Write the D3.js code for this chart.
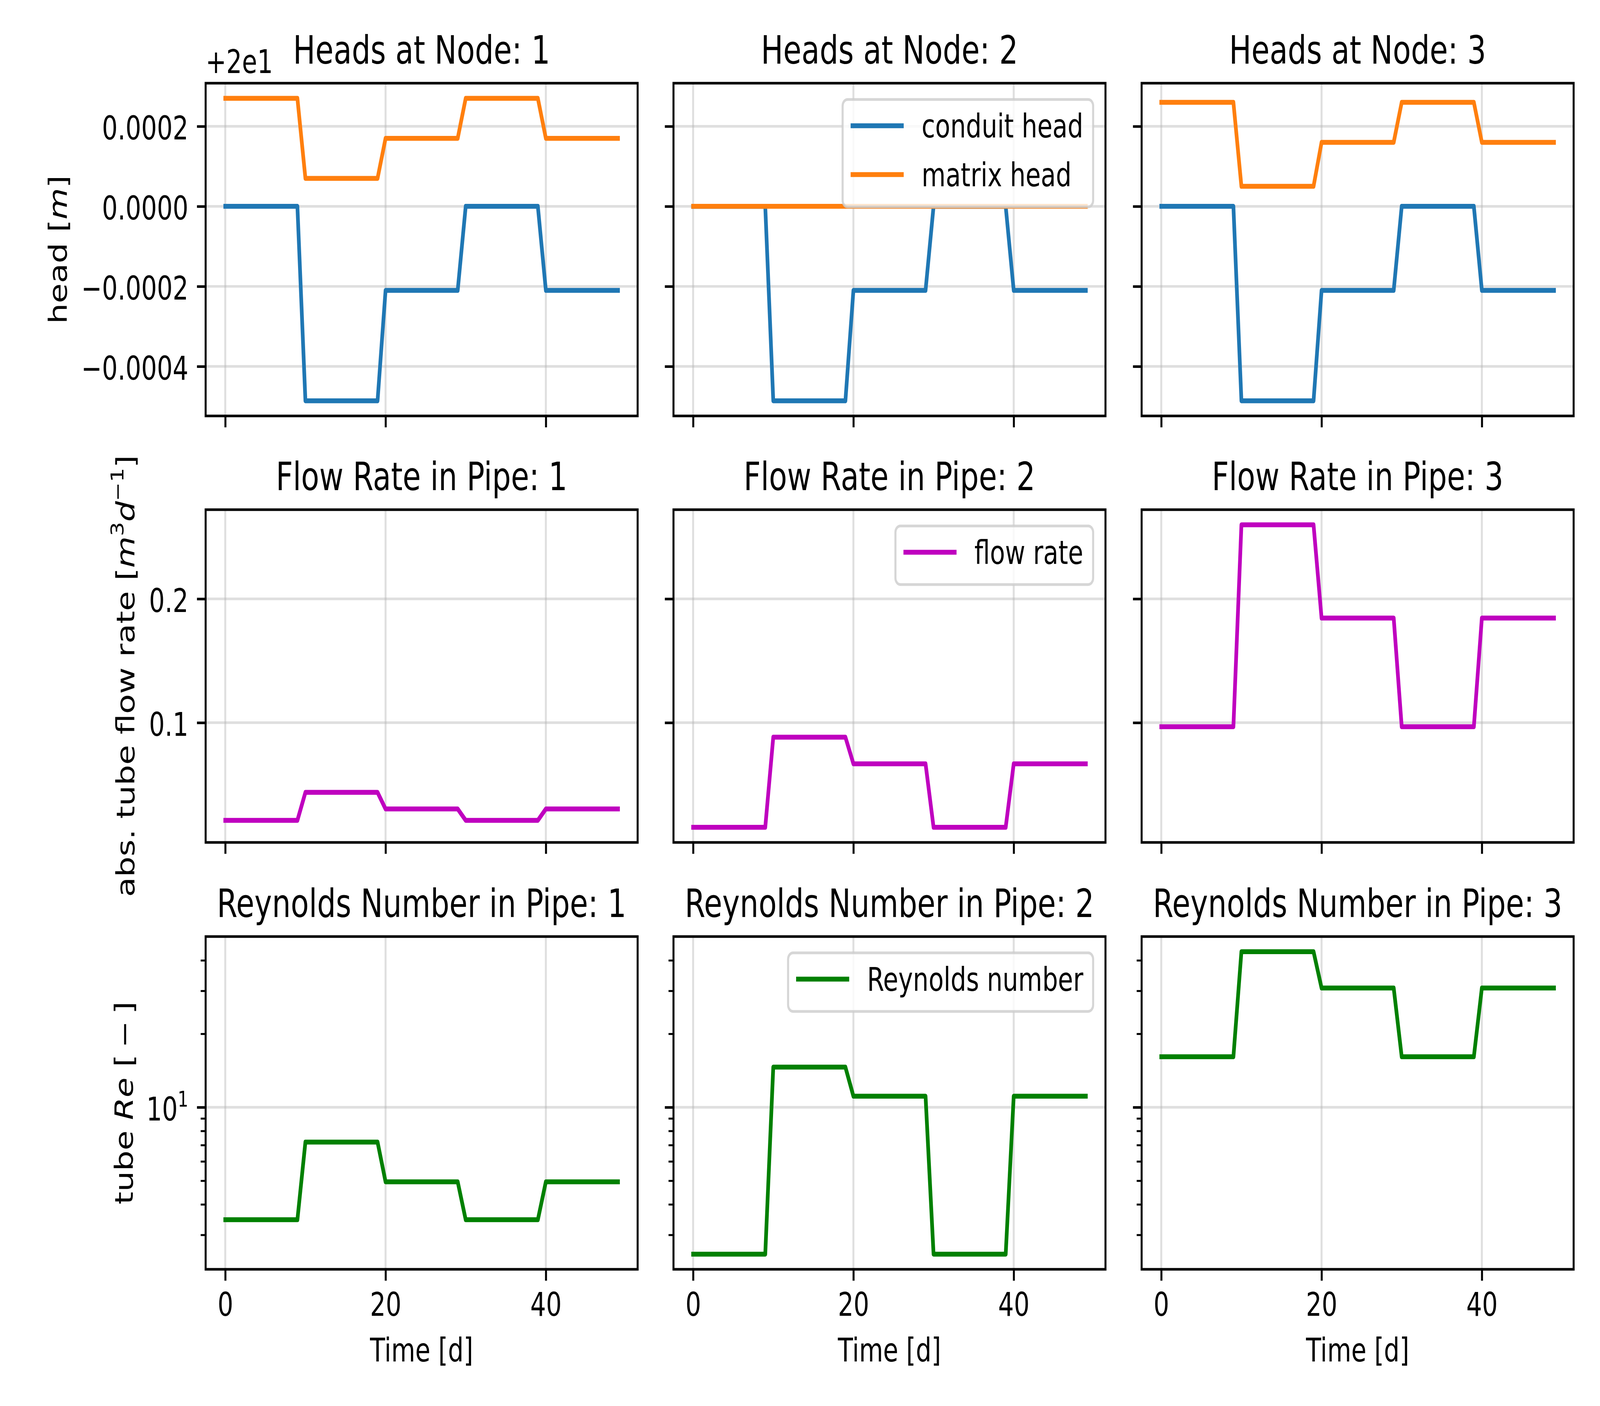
<!DOCTYPE html>
<html>
<head>
<meta charset="utf-8">
<script src="https://cdn.jsdelivr.net/npm/d3@7"></script>
<style>
  html, body { margin: 0; padding: 0; background: #fff; overflow: hidden; }
  text { font-family: "DejaVu Sans", sans-serif; fill: #000; }
</style>
</head>
<body>
<div id="chart"></div>
<script>
// time [d]
var days = [0,1,2,3,4,5,6,7,8,9,10,11,12,13,14,15,16,17,18,19,20,21,22,23,24,
            25,26,27,28,29,30,31,32,33,34,35,36,37,38,39,40,41,42,43,44,45,46,47,48,49];

// heads relative to the +2e1 offset [m]
var conduitHead1 = [
  0,0,0,0,0,0,0,0,0,0,
  -0.000486,-0.000486,-0.000486,-0.000486,-0.000486,-0.000486,-0.000486,-0.000486,-0.000486,-0.000486,
  -0.00021,-0.00021,-0.00021,-0.00021,-0.00021,-0.00021,-0.00021,-0.00021,-0.00021,-0.00021,
  0,0,0,0,0,0,0,0,0,0,
  -0.00021,-0.00021,-0.00021,-0.00021,-0.00021,-0.00021,-0.00021,-0.00021,-0.00021,-0.00021];
var matrixHead1 = [
  0.00027,0.00027,0.00027,0.00027,0.00027,0.00027,0.00027,0.00027,0.00027,0.00027,
  0.00007,0.00007,0.00007,0.00007,0.00007,0.00007,0.00007,0.00007,0.00007,0.00007,
  0.00017,0.00017,0.00017,0.00017,0.00017,0.00017,0.00017,0.00017,0.00017,0.00017,
  0.00027,0.00027,0.00027,0.00027,0.00027,0.00027,0.00027,0.00027,0.00027,0.00027,
  0.00017,0.00017,0.00017,0.00017,0.00017,0.00017,0.00017,0.00017,0.00017,0.00017];
var conduitHead2 = [
  0,0,0,0,0,0,0,0,0,0,
  -0.000486,-0.000486,-0.000486,-0.000486,-0.000486,-0.000486,-0.000486,-0.000486,-0.000486,-0.000486,
  -0.00021,-0.00021,-0.00021,-0.00021,-0.00021,-0.00021,-0.00021,-0.00021,-0.00021,-0.00021,
  0,0,0,0,0,0,0,0,0,0,
  -0.00021,-0.00021,-0.00021,-0.00021,-0.00021,-0.00021,-0.00021,-0.00021,-0.00021,-0.00021];
var matrixHead2 = [
  0,0,0,0,0,0,0,0,0,0,
  0,0,0,0,0,0,0,0,0,0,
  0,0,0,0,0,0,0,0,0,0,
  0,0,0,0,0,0,0,0,0,0,
  0,0,0,0,0,0,0,0,0,0];
var conduitHead3 = [
  0,0,0,0,0,0,0,0,0,0,
  -0.000486,-0.000486,-0.000486,-0.000486,-0.000486,-0.000486,-0.000486,-0.000486,-0.000486,-0.000486,
  -0.00021,-0.00021,-0.00021,-0.00021,-0.00021,-0.00021,-0.00021,-0.00021,-0.00021,-0.00021,
  0,0,0,0,0,0,0,0,0,0,
  -0.00021,-0.00021,-0.00021,-0.00021,-0.00021,-0.00021,-0.00021,-0.00021,-0.00021,-0.00021];
var matrixHead3 = [
  0.00026,0.00026,0.00026,0.00026,0.00026,0.00026,0.00026,0.00026,0.00026,0.00026,
  0.00005,0.00005,0.00005,0.00005,0.00005,0.00005,0.00005,0.00005,0.00005,0.00005,
  0.00016,0.00016,0.00016,0.00016,0.00016,0.00016,0.00016,0.00016,0.00016,0.00016,
  0.00026,0.00026,0.00026,0.00026,0.00026,0.00026,0.00026,0.00026,0.00026,0.00026,
  0.00016,0.00016,0.00016,0.00016,0.00016,0.00016,0.00016,0.00016,0.00016,0.00016];

// abs. tube flow rate [m3/d]
var flowRate1 = [
  0.0211,0.0211,0.0211,0.0211,0.0211,0.0211,0.0211,0.0211,0.0211,0.0211,
  0.0437,0.0437,0.0437,0.0437,0.0437,0.0437,0.0437,0.0437,0.0437,0.0437,
  0.0303,0.0303,0.0303,0.0303,0.0303,0.0303,0.0303,0.0303,0.0303,0.0303,
  0.0211,0.0211,0.0211,0.0211,0.0211,0.0211,0.0211,0.0211,0.0211,0.0211,
  0.0303,0.0303,0.0303,0.0303,0.0303,0.0303,0.0303,0.0303,0.0303,0.0303];
var flowRate2 = [
  0.0155,0.0155,0.0155,0.0155,0.0155,0.0155,0.0155,0.0155,0.0155,0.0155,
  0.0883,0.0883,0.0883,0.0883,0.0883,0.0883,0.0883,0.0883,0.0883,0.0883,
  0.0668,0.0668,0.0668,0.0668,0.0668,0.0668,0.0668,0.0668,0.0668,0.0668,
  0.0155,0.0155,0.0155,0.0155,0.0155,0.0155,0.0155,0.0155,0.0155,0.0155,
  0.0668,0.0668,0.0668,0.0668,0.0668,0.0668,0.0668,0.0668,0.0668,0.0668];
var flowRate3 = [
  0.0967,0.0967,0.0967,0.0967,0.0967,0.0967,0.0967,0.0967,0.0967,0.0967,
  0.2598,0.2598,0.2598,0.2598,0.2598,0.2598,0.2598,0.2598,0.2598,0.2598,
  0.1845,0.1845,0.1845,0.1845,0.1845,0.1845,0.1845,0.1845,0.1845,0.1845,
  0.0967,0.0967,0.0967,0.0967,0.0967,0.0967,0.0967,0.0967,0.0967,0.0967,
  0.1845,0.1845,0.1845,0.1845,0.1845,0.1845,0.1845,0.1845,0.1845,0.1845];

// tube Reynolds number [-]
var reynolds1 = [
  3.46,3.46,3.46,3.46,3.46,3.46,3.46,3.46,3.46,3.46,
  7.20,7.20,7.20,7.20,7.20,7.20,7.20,7.20,7.20,7.20,
  4.95,4.95,4.95,4.95,4.95,4.95,4.95,4.95,4.95,4.95,
  3.46,3.46,3.46,3.46,3.46,3.46,3.46,3.46,3.46,3.46,
  4.95,4.95,4.95,4.95,4.95,4.95,4.95,4.95,4.95,4.95];
var reynolds2 = [
  2.50,2.50,2.50,2.50,2.50,2.50,2.50,2.50,2.50,2.50,
  14.6,14.6,14.6,14.6,14.6,14.6,14.6,14.6,14.6,14.6,
  11.1,11.1,11.1,11.1,11.1,11.1,11.1,11.1,11.1,11.1,
  2.50,2.50,2.50,2.50,2.50,2.50,2.50,2.50,2.50,2.50,
  11.1,11.1,11.1,11.1,11.1,11.1,11.1,11.1,11.1,11.1];
var reynolds3 = [
  16.1,16.1,16.1,16.1,16.1,16.1,16.1,16.1,16.1,16.1,
  43.4,43.4,43.4,43.4,43.4,43.4,43.4,43.4,43.4,43.4,
  30.8,30.8,30.8,30.8,30.8,30.8,30.8,30.8,30.8,30.8,
  16.1,16.1,16.1,16.1,16.1,16.1,16.1,16.1,16.1,16.1,
  30.8,30.8,30.8,30.8,30.8,30.8,30.8,30.8,30.8,30.8];

// ticks
var timeTicks = [0, 20, 40];
var headTicks = [-0.0004, -0.0002, 0, 0.0002];
var flowTicks = [0.1, 0.2];
var reMajorTicks = [10];
var reMinorTicks = [3, 4, 5, 6, 7, 8, 9, 20, 30, 40];
var headOffsetLabel = "+2e1";

var W = 5400, H = 3600;
var colX = [694, 2273, 3853], rowY = [213, 1305, 2398];
var pw = 1458, ph = 852;
var fs = 83.33, titleFs = 100;
var tickLen = 29.2, tickPad = 29.2, lw = 6.67;

// the drawing is laid out on a 5400x3600 grid and stretched onto the window
var svg = d3.select("#chart").append("svg")
    .attr("viewBox", "0 0 " + W + " " + H)
    .attr("preserveAspectRatio", "none")
    .style("width", "100vw")
    .style("height", "100vh")
    .style("display", "block")
    .style("background", "#fff");

// 5% margins like matplotlib
function pad(ext) {
  var m = (ext[1] - ext[0]) * 0.05;
  return [ext[0] - m, ext[1] + m];
}

var x = d3.scaleLinear().domain(pad(d3.extent(days))).range([0, pw]);

var yHead = d3.scaleLinear()
    .domain(pad(d3.extent([].concat(conduitHead1, matrixHead1, conduitHead2, matrixHead2, conduitHead3, matrixHead3))))
    .range([ph, 0]);
var yFlow = d3.scaleLinear()
    .domain(pad(d3.extent([].concat(flowRate1, flowRate2, flowRate3))))
    .range([ph, 0]);
var reLog = pad(d3.extent([].concat(reynolds1, reynolds2, reynolds3)).map(Math.log10));
var yRe = d3.scaleLog()
    .domain([Math.pow(10, reLog[0]), Math.pow(10, reLog[1])])
    .range([ph, 0]);

var blue = "#1f77b4", orange = "#ff7f0e", magenta = "#bf00bf", green = "#008000";

var rows = [
  { title: "Heads at Node: ", y: yHead, ticks: headTicks,
    fmt: function(d) { return (d < 0 ? "\u2212" : "") + Math.abs(d).toFixed(4); },
    series: [
      [{ v: conduitHead1, c: blue, label: "conduit head" }, { v: matrixHead1, c: orange, label: "matrix head" }],
      [{ v: conduitHead2, c: blue, label: "conduit head" }, { v: matrixHead2, c: orange, label: "matrix head" }],
      [{ v: conduitHead3, c: blue, label: "conduit head" }, { v: matrixHead3, c: orange, label: "matrix head" }]
    ] },
  { title: "Flow Rate in Pipe: ", y: yFlow, ticks: flowTicks,
    fmt: function(d) { return d.toFixed(1); },
    series: [
      [{ v: flowRate1, c: magenta, label: "flow rate" }],
      [{ v: flowRate2, c: magenta, label: "flow rate" }],
      [{ v: flowRate3, c: magenta, label: "flow rate" }]
    ] },
  { title: "Reynolds Number in Pipe: ", y: yRe, ticks: reMajorTicks, log: true,
    series: [
      [{ v: reynolds1, c: green, label: "Reynolds number" }],
      [{ v: reynolds2, c: green, label: "Reynolds number" }],
      [{ v: reynolds3, c: green, label: "Reynolds number" }]
    ] }
];

function styleAxis(sel, width) {
  sel.attr("font-size", fs).attr("font-family", null);
  sel.select(".domain").remove();
  sel.selectAll(".tick line").attr("stroke", "#000").attr("stroke-width", width);
}

function legend(g, items) {
  var bp = 0.4 * fs, hl = 2 * fs, htp = 0.8 * fs, rowStep = 1.5 * fs;
  var lg = g.append("g");
  var box = lg.append("rect");
  var widths = [];
  items.forEach(function(it, i) {
    var top = bp + i * rowStep;
    lg.append("line")
        .attr("x1", bp).attr("x2", bp + hl)
        .attr("y1", top + 34).attr("y2", top + 34)
        .attr("stroke", it.c).attr("stroke-width", 12.5)
        .attr("stroke-linecap", "square");
    var t = lg.append("text")
        .attr("x", bp + hl + htp).attr("y", top + 64)
        .attr("font-size", fs)
        .text(it.label);
    widths.push(t.node().getComputedTextLength());
  });
  var bw = bp + hl + htp + d3.max(widths) + bp;
  var bh = 2 * bp + items.length * fs + (items.length - 1) * 0.5 * fs;
  box.attr("width", bw).attr("height", bh)
      .attr("rx", 0.2 * fs).attr("ry", 0.2 * fs)
      .attr("fill", "#fff").attr("fill-opacity", 0.8)
      .attr("stroke", "#cccccc").attr("stroke-opacity", 0.8).attr("stroke-width", 7);
  lg.attr("transform", "translate(" + (pw - 0.5 * fs - bw) + "," + (0.5 * fs) + ")");
}

rows.forEach(function(row, r) {
  var y = row.y;
  row.series.forEach(function(series, c) {
    var g = svg.append("g").attr("transform", "translate(" + colX[c] + "," + rowY[r] + ")");

    // grid
    g.append("g").selectAll("line").data(timeTicks).join("line")
        .attr("x1", function(d) { return x(d); }).attr("x2", function(d) { return x(d); })
        .attr("y1", 0).attr("y2", ph)
        .attr("stroke", "#b0b0b0").attr("stroke-opacity", 0.4).attr("stroke-width", lw);
    g.append("g").selectAll("line").data(row.ticks).join("line")
        .attr("x1", 0).attr("x2", pw)
        .attr("y1", function(d) { return y(d); }).attr("y2", function(d) { return y(d); })
        .attr("stroke", "#b0b0b0").attr("stroke-opacity", 0.4).attr("stroke-width", lw);

    // data
    var line = d3.line()
        .x(function(d, i) { return x(days[i]); })
        .y(function(d) { return y(d); });
    series.forEach(function(s) {
      g.append("path").datum(s.v)
          .attr("d", line)
          .attr("fill", "none")
          .attr("stroke", s.c)
          .attr("stroke-width", 12.5)
          .attr("stroke-linejoin", "round")
          .attr("stroke-linecap", "square");
    });

    // spines
    g.append("rect").attr("width", pw).attr("height", ph)
        .attr("fill", "none").attr("stroke", "#000").attr("stroke-width", lw);

    // x axis
    var xa = g.append("g").attr("transform", "translate(0," + ph + ")")
        .call(d3.axisBottom(x).tickValues(timeTicks).tickSize(tickLen).tickPadding(tickPad)
          .tickFormat(r === 2 ? d3.format("d") : function() { return ""; }));
    styleAxis(xa, lw);
    xa.selectAll(".tick text").attr("dy", "0.73em");

    // y axis
    if (row.log) {
      var ya = g.append("g")
          .call(d3.axisLeft(y).tickValues(reMajorTicks).tickSize(tickLen).tickPadding(tickPad)
            .tickFormat(function() { return c === 0 ? "10" : ""; }));
      styleAxis(ya, lw);
      ya.selectAll(".tick text").attr("dy", "0.4em");
      if (c === 0) {
        ya.selectAll(".tick text").append("tspan")
            .attr("dy", -36).attr("font-size", 56).text("1");
      }
      var ym = g.append("g")
          .call(d3.axisLeft(y).tickValues(reMinorTicks).tickSize(16.7).tickFormat(function() { return ""; }));
      styleAxis(ym, 5);
    } else {
      var yb = g.append("g")
          .call(d3.axisLeft(y).tickValues(row.ticks).tickSize(tickLen).tickPadding(tickPad)
            .tickFormat(c === 0 ? row.fmt : function() { return ""; }));
      styleAxis(yb, lw);
      yb.selectAll(".tick text").attr("dy", "0.4em");
    }

    // legend in the middle column
    if (c === 1) legend(g, series);

    // title
    g.append("text")
        .attr("x", pw / 2).attr("y", -50)
        .attr("text-anchor", "middle")
        .attr("font-size", titleFs)
        .text(row.title + (c + 1));

    if (r === 2) {
      g.append("text")
          .attr("x", pw / 2).attr("y", 3486 - rowY[2])
          .attr("text-anchor", "middle")
          .attr("font-size", fs)
          .text("Time [d]");
    }
  });
});

// offset text of the head axis
svg.append("text")
    .attr("x", colX[0]).attr("y", 187)
    .attr("font-size", fs)
    .text(headOffsetLabel);

// y labels with italic / superscript parts
function ylabel(bx, cy, parts) {
  var t = svg.append("text")
      .attr("transform", "translate(" + bx + "," + cy + ") rotate(-90)")
      .attr("text-anchor", "middle")
      .attr("font-size", fs);
  var raised = 0;
  parts.forEach(function(p) {
    if (typeof p === "string") p = { t: p };
    var shift = p.sup ? -37 : 0;
    var ts = t.append("tspan").text(p.t);
    if (shift !== raised) { ts.attr("dy", shift - raised); raised = shift; }
    if (p.i) ts.attr("font-style", "italic");
    if (p.sup) ts.attr("font-size", 58);
  });
}

ylabel(225, rowY[0] + ph / 2, ["head [", { t: "m", i: true }, "]"]);
ylabel(453, rowY[1] + ph / 2, ["abs. tube flow rate [", { t: "m", i: true }, { t: "3", sup: true },
                               { t: "d", i: true }, { t: "\u22121", sup: true }, "]"]);
ylabel(448, rowY[2] + ph / 2, ["tube ", { t: "Re", i: true }, " [\u2009\u2212\u2009]"]);
</script>
</body>
</html>
